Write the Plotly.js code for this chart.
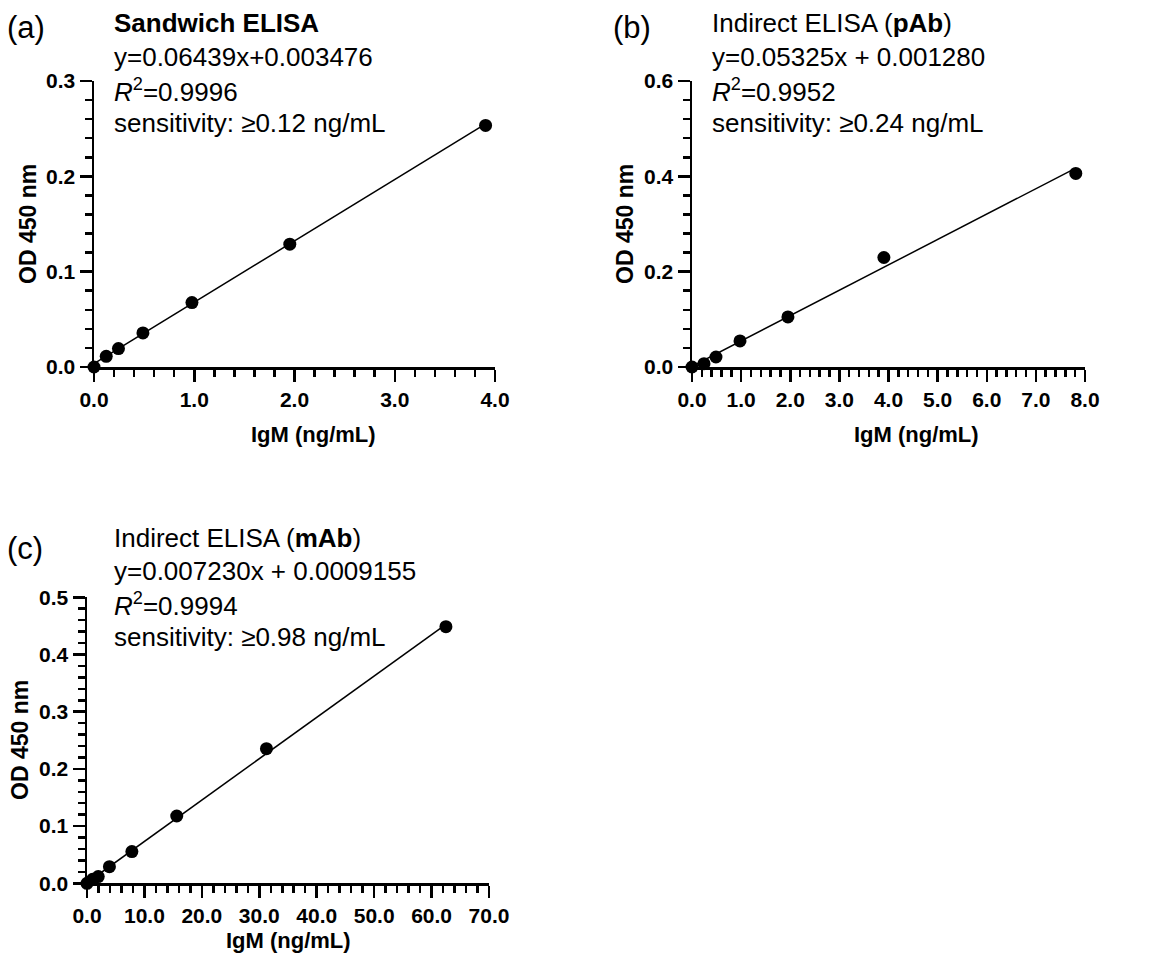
<!DOCTYPE html>
<html>
<head>
<meta charset="utf-8">
<script src="https://cdn.plot.ly/plotly-3.0.1.min.js"></script>
<style>html,body{margin:0;padding:0;background:#fff;}#chart{width:1153px;height:961px;}</style>
</head>
<body>
<div id="chart"></div>
<script>
// ---- Data ----
const sandwichX = [0, 0.122, 0.244, 0.488, 0.977, 1.953, 3.906];
const sandwichY = [0, 0.0112, 0.0193, 0.0357, 0.0676, 0.1288, 0.2534];
const sandwichFitX = [0, 3.906];
const sandwichFitY = [0.0035, 0.2550];

const pAbX = [0, 0.244, 0.488, 0.977, 1.953, 3.906, 7.8125];
const pAbY = [0, 0.007, 0.021, 0.0546, 0.105, 0.2297, 0.406];
const pAbFitX = [0, 7.8125];
const pAbFitY = [0.0013, 0.4173];

const mAbX = [0, 0.977, 1.953, 3.906, 7.8125, 15.625, 31.25, 62.5];
const mAbY = [0, 0.007, 0.0117, 0.029, 0.0554, 0.1177, 0.2354, 0.4487];
const mAbFitX = [0, 62.5];
const mAbFitY = [0.0009, 0.4528];

const aXTicks = [0, 1, 2, 3, 4];
const aYTicks = [0, 0.1, 0.2, 0.3];
const bXTicks = [0, 1, 2, 3, 4, 5, 6, 7, 8];
const bYTicks = [0, 0.2, 0.4, 0.6];
const cXTicks = [0, 10, 20, 30, 40, 50, 60, 70];
const cYTicks = [0, 0.1, 0.2, 0.3, 0.4, 0.5];

const panelLabels = ['(a)', '(b)', '(c)'];
const aText = ['<b>Sandwich ELISA</b>', 'y=0.06439x+0.003476', '<i>R</i><sup>2</sup>=0.9996', 'sensitivity: ≥0.12 ng/mL'];
const bText = ['Indirect ELISA (<b>pAb</b>)', 'y=0.05325x + 0.001280', '<i>R</i><sup>2</sup>=0.9952', 'sensitivity: ≥0.24 ng/mL'];
const cText = ['Indirect ELISA (<b>mAb</b>)', 'y=0.007230x + 0.0009155', '<i>R</i><sup>2</sup>=0.9994', 'sensitivity: ≥0.98 ng/mL'];
const xTitle = 'IgM (ng/mL)';
const yTitle = 'OD 450 nm';

// ---- Layout helpers (pixel -> paper) ----
const W = 1153, H = 961;
const px = x => x / W;
const py = y => 1 - y / H;
const FONT = 'Liberation Sans, Arial, Helvetica, sans-serif';

function pts(x, y, xa, ya) {
  return {x: x, y: y, xaxis: xa, yaxis: ya, type: 'scatter', mode: 'markers',
    marker: {color: '#000', size: 13}, cliponaxis: false, showlegend: false, hoverinfo: 'x+y'};
}
function fit(x, y, xa, ya) {
  return {x: x, y: y, xaxis: xa, yaxis: ya, type: 'scatter', mode: 'lines',
    line: {color: '#000', width: 1.5}, cliponaxis: false, showlegend: false, hoverinfo: 'skip'};
}

const traces = [
  fit(sandwichFitX, sandwichFitY, 'x', 'y'), pts(sandwichX, sandwichY, 'x', 'y'),
  fit(pAbFitX, pAbFitY, 'x2', 'y2'), pts(pAbX, pAbY, 'x2', 'y2'),
  fit(mAbFitX, mAbFitY, 'x3', 'y3'), pts(mAbX, mAbY, 'x3', 'y3')
];

function axis(domain, range, tickvals, fmt, minorDtick, anchor) {
  return {
    domain: domain, range: range, anchor: anchor,
    tickmode: 'array', tickvals: tickvals, tickformat: fmt,
    showline: true, linewidth: 2.5, linecolor: '#000',
    ticks: 'outside', ticklen: 12, tickwidth: 2.5, tickcolor: '#000',
    minor: {tickmode: 'linear', tick0: 0, dtick: minorDtick, ticks: 'outside', ticklen: 7, tickwidth: 2.5, tickcolor: '#000'},
    showgrid: false, zeroline: false, fixedrange: true,
    tickfont: {family: FONT, size: 21, color: '#000', weight: 'bold'}
  };
}

const topY = [py(367), py(81)];
const botY = [py(883.3), py(597.3)];

const layout = {
  width: W, height: H,
  margin: {l: 0, r: 0, t: 0, b: 0},
  paper_bgcolor: '#fff', plot_bgcolor: '#fff',
  font: {family: FONT, color: '#000'},
  xaxis: axis([px(94), px(495)], [0, 4], aXTicks, '.1f', 0.2, 'y'),
  yaxis: axis(topY, [0, 0.3], aYTicks, '.1f', 0.02, 'x'),
  xaxis2: axis([px(692), px(1085)], [0, 8], bXTicks, '.1f', 0.2, 'y2'),
  yaxis2: axis(topY, [0, 0.6], bYTicks, '.1f', 0.04, 'x2'),
  xaxis3: axis([px(87), px(489)], [0, 70], cXTicks, '.1f', 2, 'y3'),
  yaxis3: axis(botY, [0, 0.5], cYTicks, '.1f', 0.02, 'x3'),
  annotations: []
};

function addText(t, x, y, size, opts) {
  layout.annotations.push(Object.assign({
    text: t, x: px(x), y: py(y), xref: 'paper', yref: 'paper',
    xanchor: 'left', yanchor: 'middle', showarrow: false,
    font: {family: FONT, size: size, color: '#000'}
  }, opts || {}));
}

// panel labels
addText(panelLabels[0], 5, 27, 31);
addText(panelLabels[1], 611, 27, 31);
addText(panelLabels[2], 5, 548, 31);

// equation blocks
const lineYTop = [23, 57, 90, 123];
const lineYBot = [538, 571, 604, 637];
aText.forEach((t, i) => addText(t, 112, lineYTop[i], 26));
bText.forEach((t, i) => addText(t, 710, lineYTop[i], 26));
cText.forEach((t, i) => addText(t, 112, lineYBot[i], 26));

// axis titles
const tf = {family: FONT, size: 22, color: '#000', weight: 'bold'};
const tfy = {family: FONT, size: 23, color: '#000', weight: 'bold'};
addText(xTitle, 314, 434, 22, {xanchor: 'center', font: tf});
addText(xTitle, 916, 434, 22, {xanchor: 'center', font: tf});
addText(xTitle, 288, 940, 22, {xanchor: 'center', font: tf});
addText(yTitle, 28, 224, 23, {xanchor: 'center', textangle: -90, font: tfy});
addText(yTitle, 625, 224, 23, {xanchor: 'center', textangle: -90, font: tfy});
addText(yTitle, 20, 740, 23, {xanchor: 'center', textangle: -90, font: tfy});

Plotly.newPlot('chart', traces, layout, {displayModeBar: false, staticPlot: true});
</script>
</body>
</html>
